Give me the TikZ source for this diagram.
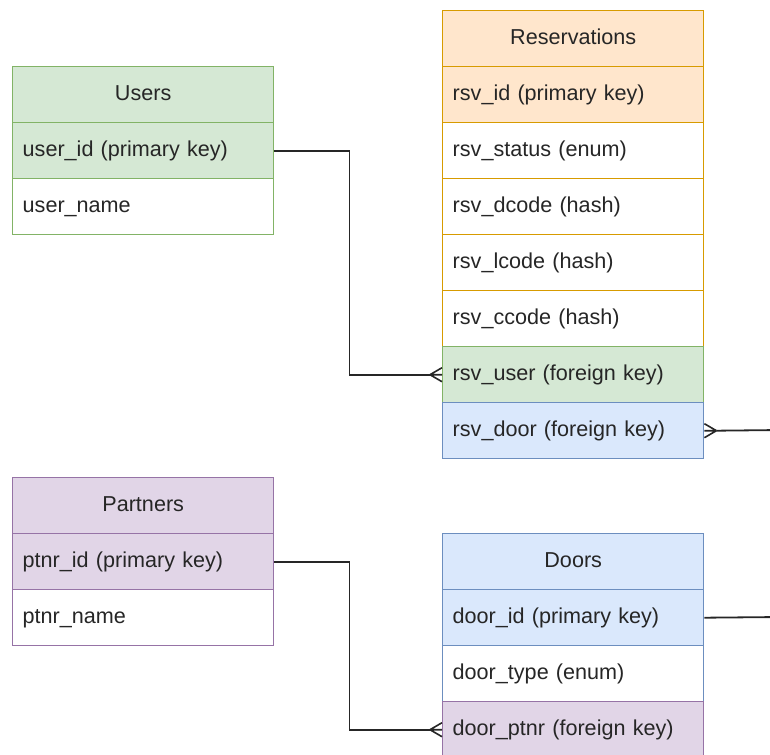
\documentclass[tikz,border=0pt]{standalone}
\usepackage{fontspec}
\setmainfont{Liberation Sans}
\usetikzlibrary{calc}

\definecolor{greenfill}{HTML}{D5E8D4}\definecolor{greenline}{HTML}{82B366}
\definecolor{orangefill}{HTML}{FFE6CC}\definecolor{orangeline}{HTML}{D79B00}
\definecolor{bluefill}{HTML}{DAE8FC}\definecolor{blueline}{HTML}{6C8EBF}
\definecolor{purplefill}{HTML}{E1D5E7}\definecolor{purpleline}{HTML}{9673A6}
\definecolor{txt}{HTML}{262626}

\tikzset{
  cell/.style={anchor=north west, minimum height=56pt, inner xsep=10pt, inner ysep=0pt,
    text width=241pt, text height=17pt, text depth=5pt, line width=1.4pt, text=txt,
    font=\fontsize{21.6}{25}\selectfont},
  field/.style={cell, align=left},
  title/.style={cell, align=center},
  green/.style={draw=greenline, fill=greenfill},
  orange/.style={draw=orangeline, fill=orangefill},
  blue/.style={draw=blueline, fill=bluefill},
  purple/.style={draw=purpleline, fill=purplefill},
  plain/.style={fill=white},
  link/.style={draw=black!85, line width=1.8pt},
  crowfoot/.pic={\draw[link, line width=1.6pt] (-12,0) -- (0,-7) (-12,0) -- (0,7) (-12,0) -- (0,0);}
}

\begin{document}
\begin{tikzpicture}[x=1pt, y=-1pt]
\useasboundingbox (0,0) rectangle (770,754);
\clip (0,0) rectangle (770,754);

% Users table
\node[title, green] (uh) at (12,66) {Users};
\node[field, green] (u1) at (12,122) {user\_id (primary key)};
\node[field, plain, draw=greenline] (u2) at (12,178) {user\_name};

% Reservations table
\node[title, orange] (rh) at (442,10) {Reservations};
\node[field, orange] (r1) at (442,66) {rsv\_id (primary key)};
\node[field, plain, draw=orangeline] (r2) at (442,122) {rsv\_status (enum)};
\node[field, plain, draw=orangeline] (r3) at (442,178) {rsv\_dcode (hash)};
\node[field, plain, draw=orangeline] (r4) at (442,234) {rsv\_lcode (hash)};
\node[field, plain, draw=orangeline] (r5) at (442,290) {rsv\_ccode (hash)};
\node[field, green] (r6) at (442,346) {rsv\_user (foreign key)};
\node[field, blue] (r7) at (442,402) {rsv\_door (foreign key)};

% Partners table
\node[title, purple] (ph) at (12,477) {Partners};
\node[field, purple] (p1) at (12,533) {ptnr\_id (primary key)};
\node[field, plain, draw=purpleline] (p2) at (12,589) {ptnr\_name};

% Doors table
\node[title, blue] (dh) at (442,533) {Doors};
\node[field, blue] (d1) at (442,589) {door\_id (primary key)};
\node[field, plain, draw=blueline] (d2) at (442,645) {door\_type (enum)};
\node[field, purple] (d3) at (442,701) {door\_ptnr (foreign key)};

% Loose ends of the connectors leaving the right edge
\coordinate (doorout) at (780,430);
\coordinate (idout) at (780,617);

% Relationships
\draw[link] (u1.east) -- ++(75,0) |- ($(r6.west)+(-12,0)$);
\pic at (r6.west) {crowfoot};
\draw[link] (p1.east) -- ++(75,0) |- ($(d3.west)+(-12,0)$);
\pic at (d3.west) {crowfoot};
\draw[link] ($(r7.east)+(12,0)$) -- (doorout);
\pic[xscale=-1] at (r7.east) {crowfoot};
\draw[link] (d1.east) -- (idout);
\end{tikzpicture}
\end{document}
